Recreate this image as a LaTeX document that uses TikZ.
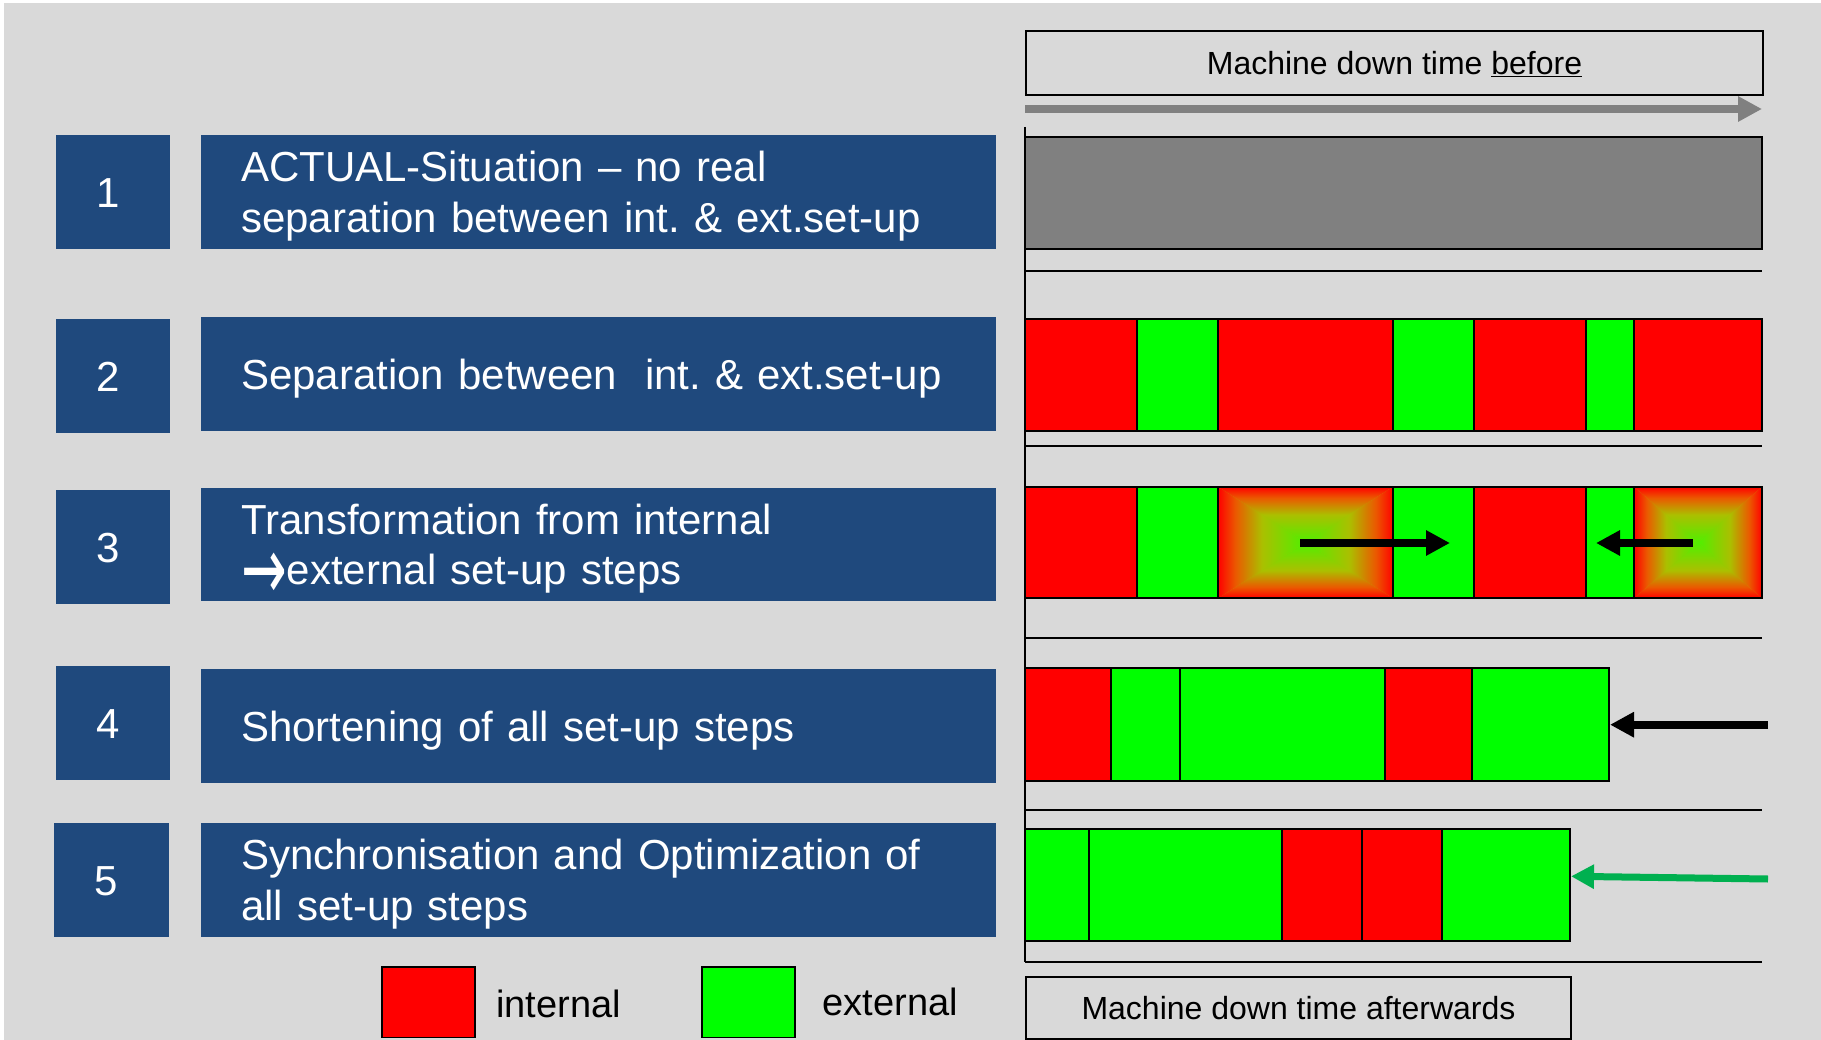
\documentclass[tikz,border=0pt]{standalone}
\usepackage{fontspec}
\usepackage{graphicx}
\setmainfont{Liberation Sans}
\newfontfamily\arrowfont{DejaVu Sans}
\usetikzlibrary{arrows.meta}

\definecolor{panel}{RGB}{217,217,217}
\definecolor{navy}{RGB}{31,73,125}
\definecolor{intred}{RGB}{255,0,0}
\definecolor{extgreen}{RGB}{0,255,0}
\definecolor{timegray}{RGB}{128,128,128}
\definecolor{movegreen}{RGB}{0,176,80}
\definecolor{gradmid}{rgb}{0.67,0.75,0}

% box gradient (red rim -> green core), assembled from four edge shadings
\pgfdeclareverticalshading{fadetop}{100bp}{rgb(0bp)=(0.31,0.94,0); rgb(25bp)=(0.31,0.94,0); rgb(50bp)=(0.67,0.75,0); rgb(65bp)=(0.92,0.35,0); rgb(75bp)=(1,0,0); rgb(100bp)=(1,0,0)}
\pgfdeclareverticalshading{fadebottom}{100bp}{rgb(0bp)=(1,0,0); rgb(25bp)=(1,0,0); rgb(35bp)=(0.92,0.35,0); rgb(50bp)=(0.67,0.75,0); rgb(75bp)=(0.31,0.94,0); rgb(100bp)=(0.31,0.94,0)}
\pgfdeclarehorizontalshading{fadeleft}{100bp}{rgb(0bp)=(1,0,0); rgb(25bp)=(1,0,0); rgb(35bp)=(0.92,0.35,0); rgb(50bp)=(0.67,0.75,0); rgb(75bp)=(0.31,0.94,0); rgb(100bp)=(0.31,0.94,0)}
\pgfdeclarehorizontalshading{faderight}{100bp}{rgb(0bp)=(0.31,0.94,0); rgb(25bp)=(0.31,0.94,0); rgb(50bp)=(0.67,0.75,0); rgb(65bp)=(0.92,0.35,0); rgb(75bp)=(1,0,0); rgb(100bp)=(1,0,0)}

% one block of a set-up bar: x1 y1 x2 y2 colour
\newcommand{\barseg}[5]{\filldraw[segline, fill=#5] (#1,#2) rectangle (#3,#4);}
% block that is being moved out of the internal set-up
\newcommand{\gradbox}[4]{%
  \pgfmathsetmacro{\gcx}{(#1+#3)/2}%
  \pgfmathsetmacro{\gcy}{(#2+#4)/2}%
  \fill[gradmid] (#1,#2) rectangle (#3,#4);
  \shade[shading=fadetop] (#1,#2) -- (#3,#2) -- (\gcx,\gcy) -- cycle;
  \shade[shading=fadebottom] (#1,#4) -- (#3,#4) -- (\gcx,\gcy) -- cycle;
  \shade[shading=fadeleft] (#1,#2) -- (#1,#4) -- (\gcx,\gcy) -- cycle;
  \shade[shading=faderight] (#3,#2) -- (#3,#4) -- (\gcx,\gcy) -- cycle;
  \draw[segline] (#1,#2) rectangle (#3,#4);}
% tall arrow glyph used inside the step text
\newcommand{\bigarrow}{{\arrowfont\raisebox{-15pt}{\scalebox{1.3}[2.1]{→}}}}

\tikzset{
  segline/.style={draw=black, line width=2pt},
  bigtext/.style={font=\fontsize{42}{50.5}\selectfont\frenchspacing},
  numbox/.style={bigtext, fill=navy, text=white, anchor=north west, inner sep=0pt,
    minimum width=114.7pt, minimum height=113.7pt, text height=30pt, text depth=0pt,
    execute at begin node=\hspace*{-10pt}},
  stepbox/.style={bigtext, fill=navy, text=white, anchor=north west,
    inner xsep=40pt, inner ysep=0pt, text width=715pt, align=left,
    minimum width=795pt, minimum height=113.7pt, text height=30pt, text depth=0pt},
  twoline/.style={text depth=50.5pt},
  timebox/.style={draw=black, line width=2pt, anchor=north west, inner sep=0pt,
    font=\fontsize{32}{38}\selectfont, text height=23pt, text depth=0pt, minimum height=64pt},
  rowline/.style={draw=black, line width=2pt},
  timearrow/.style={draw=timegray, line width=8pt, -{Triangle[length=24pt,width=24pt]}},
  blackarrow/.style={draw=black, line width=8pt, -{Triangle[length=24pt,width=24pt]}},
  movearrow/.style={draw=movegreen, line width=7pt, -{Triangle[length=23pt,width=23pt]}},
  legbox/.style={draw=black, line width=1.5pt, anchor=north west, inner sep=0pt,
    minimum width=93pt, minimum height=70.7pt},
  legtext/.style={font=\fontsize{38}{45}\selectfont, anchor=base west, inner sep=0pt},
}

\begin{document}
\begin{tikzpicture}[x=1pt,y=-1pt]
\useasboundingbox (0,0) rectangle (1821,1040);
\fill[white] (0,0) rectangle (1821,1040);
\fill[panel] (4,3) rectangle (1821,1040);

% ---- step list ----
\node[numbox] (n1) at (55.3,135) {1};
\node[numbox] (n2) at (55.4,319) {2};
\node[numbox] (n3) at (55.4,490) {3};
\node[numbox] (n4) at (55.4,666) {4};
\node[numbox] (n5) at (54,823) {5};

\node[stepbox, twoline] (s1) at (201,135) {ACTUAL-Situation – no real\\separation between int. \& ext.set-up};
\node[stepbox] (s2) at (201,317) {Separation between~ int. \& ext.set-up};
\node[stepbox, twoline] (s3) at (201,487.3) {Transformation from internal\\\bigarrow external set-up steps};
\node[stepbox] (s4) at (201,669) {Shortening of all set-up steps};
\node[stepbox, twoline] (s5) at (201,823) {Synchronisation and Optimization of\\all set-up steps};

% ---- time axis ----
\node[timebox, minimum width=737pt] (before) at (1025,30) {Machine down time \underline{before}};
\coordinate (axis0) at (1025,109);
\coordinate (axis1) at (1762,109);
\draw[timearrow] (axis0) -- (axis1);

% row 1: current state
\filldraw[segline, fill=timegray] (1025,137) rectangle (1762,249);

% row 2: separated
\barseg{1025}{319}{1137}{431}{intred}
\barseg{1137}{319}{1218}{431}{extgreen}
\barseg{1218}{319}{1393}{431}{intred}
\barseg{1393}{319}{1473.5}{431}{extgreen}
\barseg{1473.5}{319}{1586}{431}{intred}
\barseg{1586}{319}{1634}{431}{extgreen}
\barseg{1634}{319}{1762}{431}{intred}

% row 3: transformation
\barseg{1025}{486.7}{1137}{598.3}{intred}
\barseg{1137}{486.7}{1218}{598.3}{extgreen}
\gradbox{1218}{486.7}{1393}{598.3}
\barseg{1393}{486.7}{1473.5}{598.3}{extgreen}
\barseg{1473.5}{486.7}{1586}{598.3}{intred}
\barseg{1586}{486.7}{1634}{598.3}{extgreen}
\gradbox{1634}{486.7}{1762}{598.3}
\coordinate (mvA0) at (1300,543);
\coordinate (mvA1) at (1450,543);
\coordinate (mvB0) at (1693,543);
\coordinate (mvB1) at (1596,543);
\draw[blackarrow] (mvA0) -- (mvA1);
\draw[blackarrow] (mvB0) -- (mvB1);

% row 4: shortened
\barseg{1025}{668.3}{1110.6}{780.7}{intred}
\barseg{1110.6}{668.3}{1180}{780.7}{extgreen}
\barseg{1180}{668.3}{1385.4}{780.7}{extgreen}
\barseg{1385.4}{668.3}{1472}{780.7}{intred}
\barseg{1472}{668.3}{1609.3}{780.7}{extgreen}
\coordinate (cut4) at (1768,724.7);
\coordinate (end4) at (1610,724.7);
\draw[blackarrow] (cut4) -- (end4);

% row 5: synchronised
\barseg{1025}{829}{1089}{940.7}{extgreen}
\barseg{1089}{829}{1281.6}{940.7}{extgreen}
\barseg{1281.6}{829}{1361.8}{940.7}{intred}
\barseg{1361.8}{829}{1442}{940.7}{intred}
\barseg{1442}{829}{1570}{940.7}{extgreen}
\coordinate (cut5) at (1768,879);
\coordinate (end5) at (1571,876.3);
\draw[movearrow] (cut5) -- (end5);

% row separators and axis
\draw[rowline] (1025,271) -- (1762,271);
\draw[rowline] (1025,446) -- (1762,446);
\draw[rowline] (1025,638) -- (1762,638);
\draw[rowline] (1025,810) -- (1762,810);
\draw[rowline] (1025,962) -- (1762,962);
\draw[rowline] (1025,127) -- (1025,962);

\node[timebox, minimum width=545pt, minimum height=62pt] (after) at (1025,976) {Machine down time afterwards};

% ---- legend ----
\node[legbox, fill=intred] (legint) at (381,966) {};
\node[legtext] (legintlbl) at (496,1017) {internal};
\node[legbox, fill=extgreen] (legext) at (701,966) {};
\node[legtext] (legextlbl) at (822.5,1015) {external};
\end{tikzpicture}
\end{document}
